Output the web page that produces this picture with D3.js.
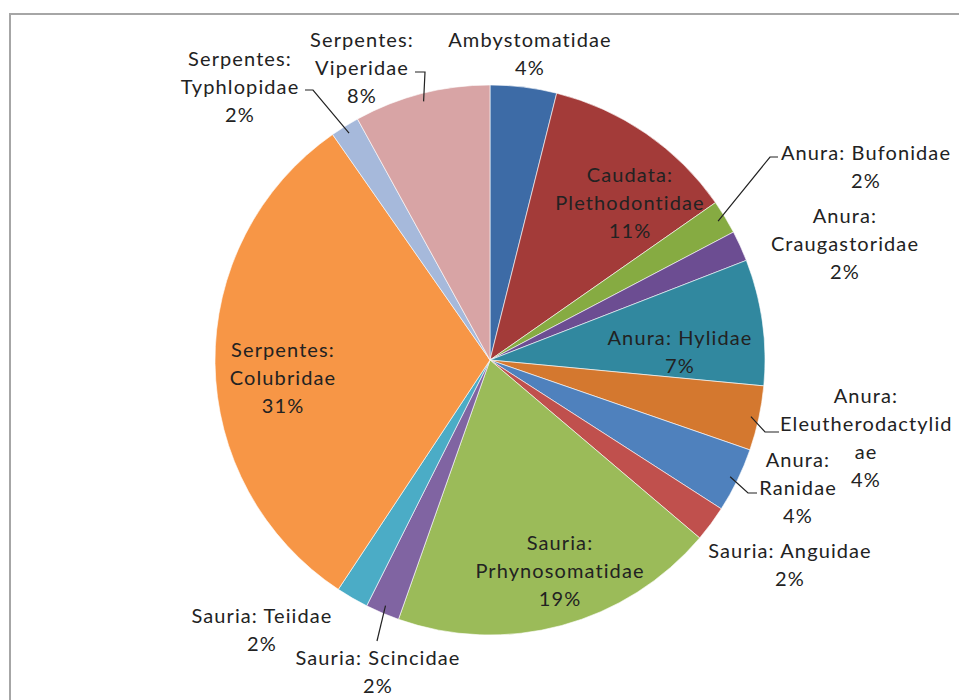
<!DOCTYPE html>
<html>
<head>
<meta charset="utf-8">
<script src="https://d3js.org/d3.v7.min.js"></script>
<style>
  body { margin: 0; background: #fff; }
  text { font-family: Lato, "Open Sans", sans-serif; font-size: 20px; letter-spacing: 1.1px; fill: #222; }
</style>
</head>
<body>
<div id="chart"></div>
<script>
  // data
  var families = ["Ambystomatidae", "Caudata: Plethodontidae", "Anura: Bufonidae", "Anura: Craugastoridae",
    "Anura: Hylidae", "Anura: Eleutherodactylidae", "Anura: Ranidae", "Sauria: Anguidae",
    "Sauria: Prhynosomatidae", "Sauria: Scincidae", "Sauria: Teiidae", "Serpentes: Colubridae",
    "Serpentes: Typhlopidae", "Serpentes: Viperidae"];
  var shares = [3.9, 11.4, 2.0, 1.8, 7.4, 3.8, 3.8, 2.1, 19.2, 2.0, 1.9, 31.0, 1.7, 8.0];
  var pctLabels = ["4%", "11%", "2%", "2%", "7%", "4%", "4%", "2%", "19%", "2%", "2%", "31%", "2%", "8%"];
  var colors = ["#3D6BA6", "#A33B39", "#86AB42", "#6C4D92", "#31889F", "#D4782F", "#4F81BD",
    "#C0504D", "#9BBB59", "#8064A2", "#4BACC6", "#F79646", "#A6B9DB", "#D8A4A5"];

  var width = 959, height = 700,
    cx = 490, cy = 360, radius = 275;

  var svg = d3.select("#chart").append("svg")
    .attr("width", width).attr("height", height);

  // chart frame (only top & left visible in the crop)
  svg.append("line").attr("x1", 9).attr("y1", 14).attr("x2", width).attr("y2", 14)
    .attr("stroke", "#a6a6a6").attr("stroke-width", 2);
  svg.append("line").attr("x1", 10).attr("y1", 14).attr("x2", 10).attr("y2", height)
    .attr("stroke", "#a6a6a6").attr("stroke-width", 2);

  var pie = d3.pie().sort(null).value(function (d) { return d; });
  var arcs = pie(shares);
  var arc = d3.arc().innerRadius(0).outerRadius(radius);

  var g = svg.append("g").attr("transform", "translate(" + cx + "," + cy + ")");

  g.selectAll("path")
    .data(arcs)
    .enter()
    .append("path")
    .attr("d", arc)
    .attr("fill", function (d, i) { return colors[i]; })
    .attr("stroke", "#fff")
    .attr("stroke-width", 0.6);

  // label layout: name lines (percentage added last), position of first line, optional leader
  var layout = [
    { lines: ["Ambystomatidae"], x: 530, y: 42 },
    { lines: ["Caudata:", "Plethodontidae"], x: 630, y: 177 },
    { lines: ["Anura: Bufonidae"], x: 866, y: 155, leader: [[770, 157], [778, 157]] },
    { lines: ["Anura:", "Craugastoridae"], x: 845, y: 218 },
    { lines: ["Anura: Hylidae"], x: 680, y: 340 },
    { lines: ["Anura:", "Eleutherodactylid", "ae"], x: 866, y: 398, anchors: [null, 780, null, null], leader: [[765, 432], [779, 432]] },
    { lines: ["Anura:", "Ranidae"], x: 798, y: 462, leader: [[748, 493], [757, 493]] },
    { lines: ["Sauria: Anguidae"], x: 790, y: 553 },
    { lines: ["Sauria:", "Prhynosomatidae"], x: 560, y: 545 },
    { lines: ["Sauria: Scincidae"], x: 378, y: 660, leader: [[377, 641]] },
    { lines: ["Sauria: Teiidae"], x: 262, y: 618 },
    { lines: ["Serpentes:", "Colubridae"], x: 283, y: 352 },
    { lines: ["Serpentes:", "Typhlopidae"], x: 240, y: 61, leader: [[313, 90], [305, 90]] },
    { lines: ["Serpentes:", "Viperidae"], x: 362, y: 42, leader: [[425, 72], [415, 72]] }
  ];

  var lineH = 28;

  arcs.forEach(function (a, i) {
    var L = layout[i];
    var lines = L.lines.concat([pctLabels[i]]);
    var t = svg.append("text").attr("dominant-baseline", "middle");
    lines.forEach(function (s, k) {
      var ax = L.anchors && L.anchors[k] != null ? L.anchors[k] : null;
      t.append("tspan")
        .attr("x", ax != null ? ax : L.x)
        .attr("y", L.y + k * lineH)
        .attr("text-anchor", ax != null ? "start" : "middle")
        .text(s);
    });
    if (L.leader) {
      var mid = (a.startAngle + a.endAngle) / 2;
      var p0 = [cx + Math.sin(mid) * (radius - 8), cy - Math.cos(mid) * (radius - 8)];
      svg.append("path")
        .attr("d", d3.line()([p0].concat(L.leader)))
        .attr("fill", "none")
        .attr("stroke", "#222")
        .attr("stroke-width", 1.2);
    }
  });
</script>
</body>
</html>
